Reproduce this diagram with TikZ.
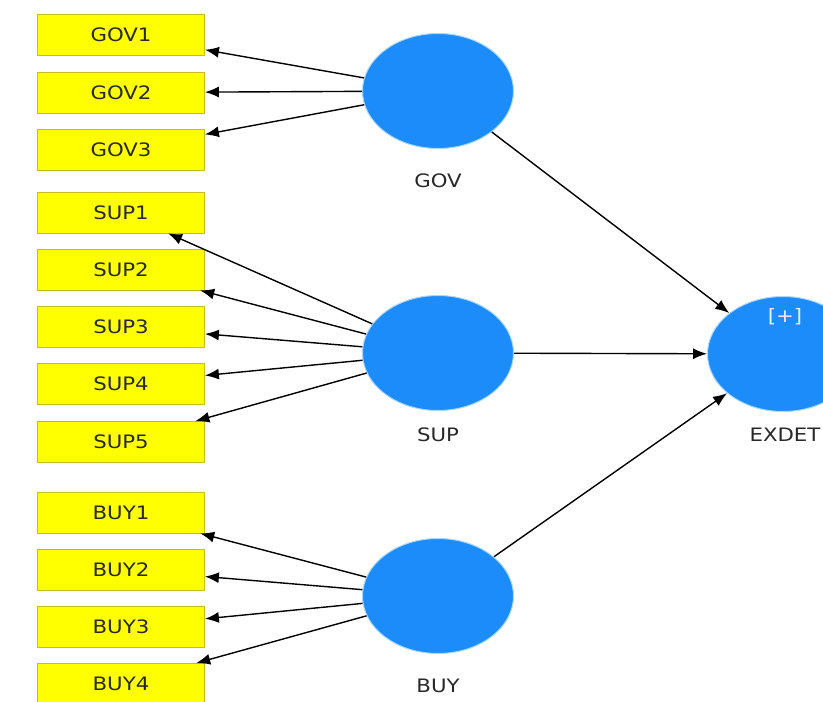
\documentclass[tikz,border=0pt]{standalone}
\usepackage{fontspec}
\setmainfont{DejaVu Sans}[FakeStretch=1.15]
\usetikzlibrary{shapes.geometric,arrows.meta}
\definecolor{indyellow}{RGB}{255,255,0}
\definecolor{indborder}{RGB}{196,190,30}
\definecolor{latblue}{RGB}{28,140,250}
\definecolor{latedge}{RGB}{170,215,255}
\definecolor{txtgray}{RGB}{40,40,40}
\begin{document}
\begin{tikzpicture}[x=1pt,y=-1pt,
  font=\fontsize{18.5}{20}\selectfont,
  indicator/.style={draw=indborder,line width=0.8pt,fill=indyellow,
    minimum width=167pt,minimum height=41pt,inner sep=0pt,text=txtgray},
  latent/.style={ellipse,fill=latblue,draw=latedge,line width=1pt,
    minimum width=151pt,minimum height=115pt,inner sep=0pt},
  tag/.style={text=txtgray},
  link/.style={line width=1.4pt,black,-{Latex[length=14pt,width=11pt]}}]
\path[use as bounding box,clip] (0,0) rectangle (823,702);

% indicator boxes
\node[indicator] (gov1) at (121,35) {GOV1};
\node[indicator] (gov2) at (121,92.5) {GOV2};
\node[indicator] (gov3) at (121,150) {GOV3};
\node[indicator] (sup1) at (121,212.5) {SUP1};
\node[indicator] (sup2) at (121,269.5) {SUP2};
\node[indicator] (sup3) at (121,327) {SUP3};
\node[indicator] (sup4) at (121,383.5) {SUP4};
\node[indicator] (sup5) at (121,442) {SUP5};
\node[indicator] (buy1) at (121,512.5) {BUY1};
\node[indicator] (buy2) at (121,569.5) {BUY2};
\node[indicator] (buy3) at (121,627) {BUY3};
\node[indicator] (buy4) at (121,684) {BUY4};

% latent variables
\node[latent] (gov) at (438,91) {};
\node[latent] (sup) at (438,353) {};
\node[latent] (buy) at (438,596) {};
\node[latent] (exdet) at (783,354) {};
\node[text=white!88!latblue] (plus) at (785,317) {[+]};

\node[tag] (govlab) at (438,181) {GOV};
\node[tag] (suplab) at (438,435) {SUP};
\node[tag] (buylab) at (438,686) {BUY};
\node[tag] (exdetlab) at (785,435) {EXDET};

% outer loadings
\foreach \t in {gov1,gov2,gov3} \draw[link] (gov) -- (\t);
\foreach \t in {sup1,sup2,sup3,sup4,sup5} \draw[link] (sup) -- (\t);
\foreach \t in {buy1,buy2,buy3,buy4} \draw[link] (buy) -- (\t);

% structural paths
\draw[link] (gov) -- (exdet);
\draw[link] (sup) -- (exdet);
\draw[link] (buy) -- (exdet);
\end{tikzpicture}
\end{document}
